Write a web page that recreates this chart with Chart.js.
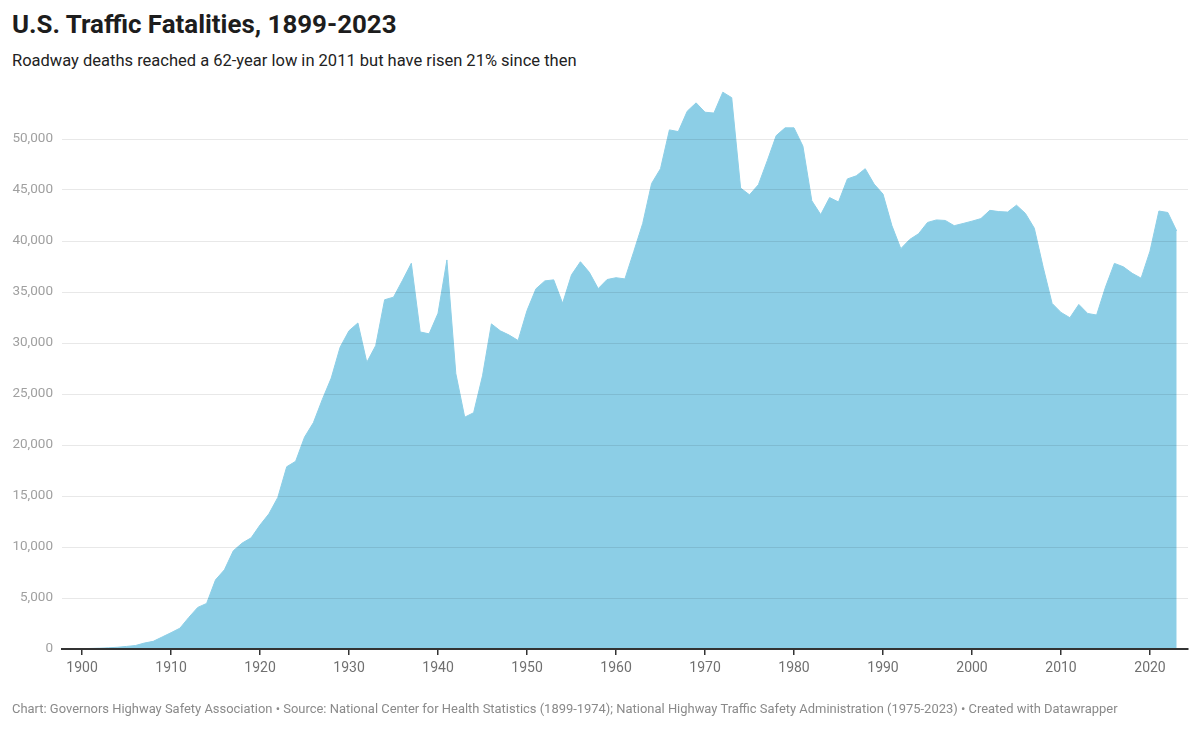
<!DOCTYPE html>
<html>
<head>
<meta charset="utf-8">
<script src="https://cdn.jsdelivr.net/npm/chart.js@4/dist/chart.umd.min.js"></script>
<style>
  body { margin: 0; background: #fff; font-family: Roboto, sans-serif; }
  #wrap { position: relative; width: 1200px; height: 729px; overflow: hidden; }
  #title { position: absolute; left: 12px; top: 9px; font-size: 25.9px; font-weight: 700; color: #1d1d1d; white-space: nowrap; }
  #sub { position: absolute; left: 12px; top: 51px; font-size: 16.5px; color: #222; white-space: nowrap; }
  #foot { position: absolute; left: 12px; top: 701px; font-size: 12.95px; color: #8a8a8a; white-space: nowrap; }
  canvas { position: absolute; left: 0; top: 0; }
</style>
</head>
<body>
<div id="wrap">
  <div id="title">U.S. Traffic Fatalities, 1899-2023</div>
  <div id="sub">Roadway deaths reached a 62-year low in 2011 but have risen 21% since then</div>
  <canvas id="chart" width="1200" height="729"></canvas>
  <div id="foot">Chart: Governors Highway Safety Association • Source: National Center for Health Statistics (1899-1974); National Highway Traffic Safety Administration (1975-2023) • Created with Datawrapper</div>
</div>
<script>
const years = [
  1899,
  1900, 1901, 1902, 1903, 1904, 1905, 1906, 1907, 1908, 1909,
  1910, 1911, 1912, 1913, 1914, 1915, 1916, 1917, 1918, 1919,
  1920, 1921, 1922, 1923, 1924, 1925, 1926, 1927, 1928, 1929,
  1930, 1931, 1932, 1933, 1934, 1935, 1936, 1937, 1938, 1939,
  1940, 1941, 1942, 1943, 1944, 1945, 1946, 1947, 1948, 1949,
  1950, 1951, 1952, 1953, 1954, 1955, 1956, 1957, 1958, 1959,
  1960, 1961, 1962, 1963, 1964, 1965, 1966, 1967, 1968, 1969,
  1970, 1971, 1972, 1973, 1974, 1975, 1976, 1977, 1978, 1979,
  1980, 1981, 1982, 1983, 1984, 1985, 1986, 1987, 1988, 1989,
  1990, 1991, 1992, 1993, 1994, 1995, 1996, 1997, 1998, 1999,
  2000, 2001, 2002, 2003, 2004, 2005, 2006, 2007, 2008, 2009,
  2010, 2011, 2012, 2013, 2014, 2015, 2016, 2017, 2018, 2019,
  2020, 2021, 2022, 2023
];

const deaths = [
  26,
  36, 54, 79, 117, 172, 252, 338, 581, 751, 1174,
  1599, 2043, 3100, 4076, 4468, 6779, 7766, 9630, 10390, 10896,
  12155, 13253, 14859, 17870, 18400, 20771, 22194, 24470, 26557, 29592,
  31204, 31963, 28108, 29746, 34240, 34494, 36126, 37819, 31083, 30895,
  32914, 38142, 27007, 22727, 23165, 26785, 31874, 31193, 30775, 30246,
  33186, 35309, 36088, 36190, 33890, 36688, 37965, 36932, 35331, 36223,
  36399, 36285, 38980, 41723, 45645, 47089, 50894, 50724, 52725, 53543,
  52627, 52542, 54589, 54052, 45196, 44525, 45523, 47878, 50331, 51093,
  51091, 49301, 43945, 42589, 44257, 43825, 46087, 46390, 47087, 45582,
  44599, 41508, 39250, 40150, 40716, 41817, 42065, 42013, 41501, 41717,
  41945, 42196, 43005, 42884, 42836, 43510, 42708, 41259, 37423, 33883,
  32999, 32479, 33782, 32893, 32744, 35484, 37806, 37473, 36835, 36355,
  39007, 42939, 42795, 40990
];

const xTickYears = [1900, 1910, 1920, 1930, 1940, 1950, 1960, 1970, 1980, 1990, 2000, 2010, 2020];
const yTickValues = [0, 5000, 10000, 15000, 20000, 25000, 30000, 35000, 40000, 45000, 50000];

const points = years.map((yr, i) => ({ x: yr, y: deaths[i] }));

new Chart(document.getElementById("chart"), {
  type: "line",
  data: {
    datasets: [{
      data: points,
      fill: "origin",
      backgroundColor: "#8ccee6",
      borderColor: "#8ccee6",
      borderWidth: 1,
      pointRadius: 0,
      tension: 0
    }]
  },
  options: {
    responsive: false,
    animation: false,
    events: [],
    layout: { padding: { left: 0, right: 12, top: 88, bottom: 50 } },
    plugins: { legend: { display: false }, tooltip: { enabled: false } },
    scales: {
      x: {
        type: "linear",
        min: 1897.75,
        max: 2024.27,
        afterBuildTicks: s => { s.ticks = xTickYears.map(v => ({ value: v })); },
        afterFit: s => { s.height = 30; },
        border: { display: true, color: "#333", width: 2, z: 2 },
        grid: { drawOnChartArea: false, drawTicks: true, tickLength: 6, color: "#333", lineWidth: 1.5 },
        ticks: {
          padding: 5,
          color: "#707070",
          font: { family: "Roboto", size: 14 },
          maxRotation: 0,
          callback: v => String(v)
        }
      },
      y: {
        min: 0,
        max: 55000,
        afterBuildTicks: s => { s.ticks = yTickValues.map(v => ({ value: v })); },
        afterFit: s => { s.width = 62; },
        border: { display: false },
        grid: { drawTicks: false, color: "rgba(0,0,0,0.09)", lineWidth: 1, z: 1 },
        ticks: {
          padding: 9,
          color: "#a0a0a0",
          font: { family: "Roboto", size: 13.5 },
          callback: v => v.toLocaleString("en-US")
        }
      }
    }
  }
});
</script>
</body>
</html>
